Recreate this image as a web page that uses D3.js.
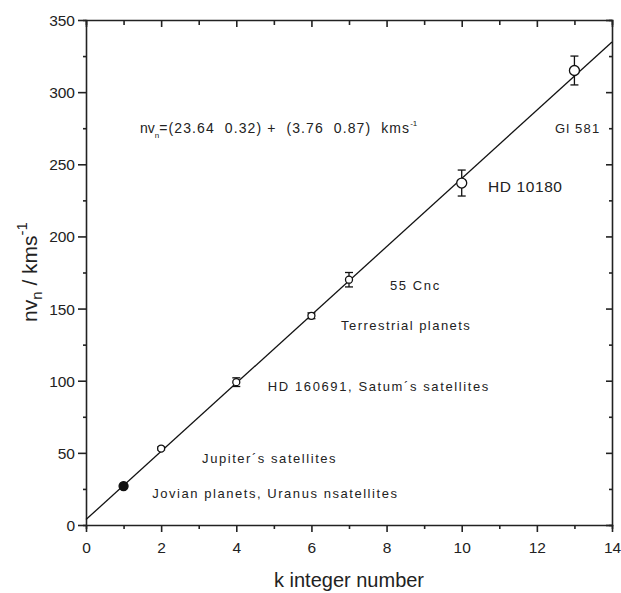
<!DOCTYPE html>
<html><head><meta charset="utf-8">
<script src="https://cdn.jsdelivr.net/npm/d3@7"></script>
<style>body{margin:0;background:#fff}svg{display:block}text{font-family:"Liberation Sans",Arial,sans-serif;fill:#222}</style>
</head><body><svg id="c" width="621" height="593"></svg>
<script>
const kValues = [1, 2, 4, 6, 7, 10, 13];
const nvValues = [27, 53, 99, 145, 170, 237, 315];
const nvErrors = [1, 1, 3, 2, 5, 9, 10];
const filled = [true, false, false, false, false, false, false];
const radii = [4.5, 3.5, 3.5, 3.5, 3.5, 5, 5];
const fitSlope = 23.64, fitIntercept = 3.76;
const xTicks = [0, 2, 4, 6, 8, 10, 12, 14];
const yTicks = [0, 50, 100, 150, 200, 250, 300, 350];
const annotations = [
  {k: 12.48, v: 272, t: "Gl 581", s: 13, ls: 1.2},
  {k: 10.7, v: 231, t: "HD 10180", s: 15.5, ls: 0.6},
  {k: 8.09, v: 163, t: "55 Cnc", s: 13, ls: 1.6},
  {k: 6.79, v: 135, t: "Terrestrial planets", s: 13, ls: 1.45},
  {k: 4.84, v: 93, t: "HD 160691, Satum´s satellites", s: 13, ls: 1.6},
  {k: 3.09, v: 43, t: "Jupiter´s satellites", s: 13, ls: 1.55},
  {k: 1.76, v: 18.7, t: "Jovian planets, Uranus nsatellites", s: 13, ls: 1.55}
];

const svg = d3.select("#c");
const x = d3.scaleLinear().domain([0, 14]).range([86, 612]);
const y = d3.scaleLinear().domain([0, 350]).range([525, 20]);
const minorX = d3.range(0, 15, 1);
const minorY = d3.range(0, 351, 25);

const gb = svg.append("g").attr("transform", "translate(0,525)");
gb.call(d3.axisBottom(x).tickValues(minorX).tickSize(4).tickFormat(""));
gb.call(g => g.selectAll(".tick").filter(d => xTicks.includes(d)).select("line").attr("y2", 7));
gb.selectAll(".tick text").remove();
gb.selectAll(".tick").filter(d => xTicks.includes(d)).append("text")
  .attr("y", 28).attr("text-anchor", "middle").attr("font-size", 15.5).text(d => d);
const gt = svg.append("g").attr("transform", "translate(0,20)");
gt.call(d3.axisBottom(x).tickValues(minorX).tickSize(5).tickFormat(""));
gt.call(g => g.selectAll(".tick").filter(d => xTicks.includes(d)).select("line").attr("y2", 7));
const gl = svg.append("g").attr("transform", "translate(86,0)");
gl.call(d3.axisLeft(y).tickValues(minorY).tickSize(3).tickFormat(""));
gl.call(g => g.selectAll(".tick").filter(d => yTicks.includes(d)).select("line").attr("x2", -8));
gl.selectAll(".tick").filter(d => yTicks.includes(d)).append("text")
  .attr("x", -11).attr("dy", "0.35em").attr("text-anchor", "end").attr("font-size", 15.5).text(d => d);
const gr = svg.append("g").attr("transform", "translate(612,0)");
gr.call(d3.axisLeft(y).tickValues(minorY).tickSize(3).tickFormat(""));
gr.call(g => g.selectAll(".tick").filter(d => yTicks.includes(d)).select("line").attr("x2", -6));

svg.selectAll(".domain").attr("stroke", "#222").attr("stroke-width", 1.6);
svg.selectAll(".tick line").attr("stroke", "#222").attr("stroke-width", 1.6);

const line = d3.line().x(d => x(d)).y(d => y(fitIntercept + fitSlope * d));
svg.append("path").datum([0, 14]).attr("d", line)
  .attr("stroke", "#111").attr("stroke-width", 1.3).attr("fill", "none");

const pts = kValues.map((k, i) => ({k, v: nvValues[i], e: nvErrors[i], f: filled[i], r: radii[i]}));
const eb = svg.append("g").attr("stroke", "#111").attr("stroke-width", 1.3);
pts.forEach(p => {
  eb.append("line").attr("x1", x(p.k)).attr("x2", x(p.k)).attr("y1", y(p.v - p.e)).attr("y2", y(p.v + p.e));
  [p.v - p.e, p.v + p.e].forEach(v => eb.append("line")
    .attr("x1", x(p.k) - 4).attr("x2", x(p.k) + 4).attr("y1", y(v)).attr("y2", y(v)));
});
svg.append("g").selectAll("circle").data(pts).join("circle")
  .attr("cx", d => x(d.k)).attr("cy", d => y(d.v)).attr("r", d => d.r)
  .attr("fill", d => d.f ? "#111" : "#fff").attr("stroke", "#111").attr("stroke-width", 1.3);

svg.append("g").selectAll("text").data(annotations).join("text")
  .attr("x", d => x(d.k)).attr("y", d => y(d.v)).attr("font-size", d => d.s)
  .attr("letter-spacing", d => d.ls).text(d => d.t);

const eq = svg.append("text").attr("x", 140).attr("y", 133).attr("font-size", 14).style("white-space", "pre");
eq.append("tspan").text("nv");
eq.append("tspan").attr("font-size", 8).attr("dy", 5).text("n");
eq.append("tspan").attr("dy", -5).attr("letter-spacing", 1.1).text("=(23.64  0.32) +  (3.76  0.87)  kms");
eq.append("tspan").attr("font-size", 8).attr("dy", -7).text("-1");

svg.append("text").attr("x", 349).attr("y", 587).attr("text-anchor", "middle").attr("font-size", 20).text("k integer number");
const yl = svg.append("text").attr("transform", "translate(37,272) rotate(-90)").attr("text-anchor", "middle").attr("font-size", 21);
yl.append("tspan").text("nv");
yl.append("tspan").attr("font-size", 15).attr("dy", 5).text("n");
yl.append("tspan").attr("dy", -5).text(" / kms");
yl.append("tspan").attr("font-size", 15).attr("dy", -10).text("-1");
</script></body></html>
